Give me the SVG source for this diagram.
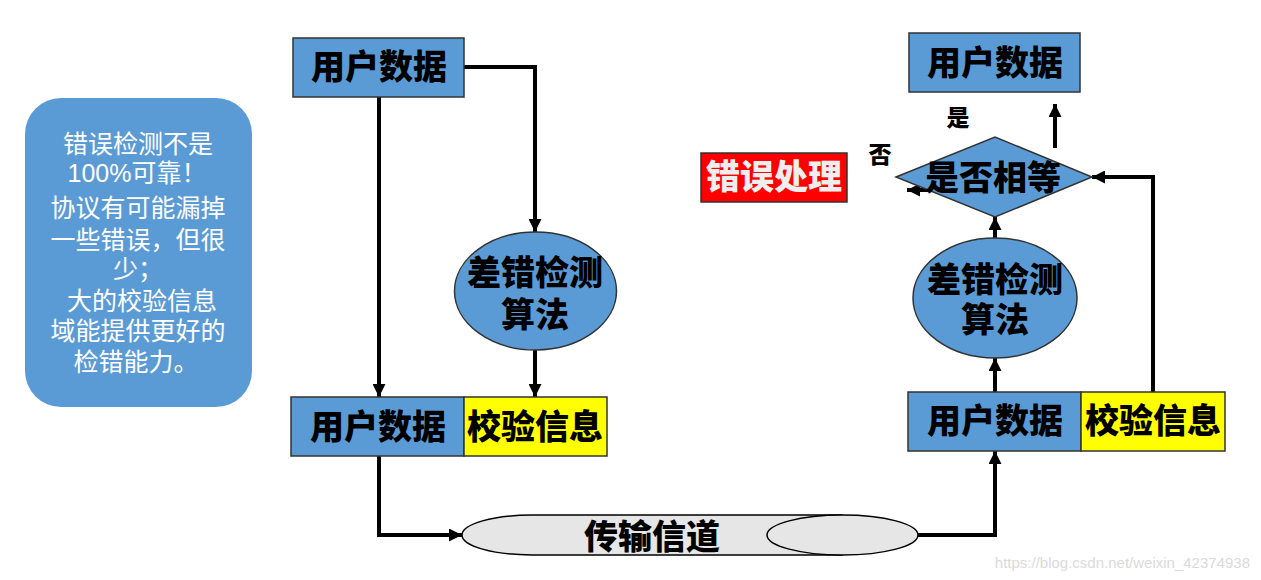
<svg xmlns="http://www.w3.org/2000/svg" width="1261" height="580" viewBox="0 0 1261 580">
<defs>
<style>
.blue{fill:#5B9BD5;stroke:#333;stroke-width:1.5}
.yel{fill:#FFFF00;stroke:#333;stroke-width:1.5}
.t{font-family:"Liberation Sans","Noto Sans CJK SC",sans-serif;font-weight:900;font-size:34px;fill:#000;text-anchor:middle;dominant-baseline:central}
.w{font-family:"Liberation Sans","Noto Sans CJK SC",sans-serif;font-size:25px;fill:#fff;text-anchor:middle;dominant-baseline:central}
.s{font-family:"Liberation Sans","Noto Sans CJK SC",sans-serif;font-weight:900;font-size:23px;fill:#000;text-anchor:middle;dominant-baseline:central}
.c{fill:none;stroke:#000;stroke-width:4}
</style>
<marker id="ah" viewBox="0 0 12 12" refX="12" refY="6" markerWidth="13" markerHeight="13" markerUnits="userSpaceOnUse" orient="auto">
<path d="M0,0 L12,6 L0,12 Z" fill="#000"/>
</marker>
</defs>
<rect width="1261" height="580" fill="#fff"/>

<g id="note">
<rect x="25" y="98" width="227" height="309" rx="36" fill="#5B9BD5"/>
<text class="w" x="138" y="144">错误检测不是</text>
<text class="w" x="137" y="173">100%可靠！</text>
<text class="w" x="138" y="208">协议有可能漏掉</text>
<text class="w" x="138" y="240">一些错误，但很</text>
<text class="w" x="138" y="269">少；</text>
<text class="w" x="142" y="301">大的校验信息</text>
<text class="w" x="138" y="331">域能提供更好的</text>
<text class="w" x="136" y="362">检错能力。</text>
</g>

<g id="connectors">
<polyline class="c" points="464,67 535,67 535,232" marker-end="url(#ah)"/>
<line class="c" x1="379" y1="97" x2="379" y2="397" marker-end="url(#ah)"/>
<line class="c" x1="535" y1="350" x2="535" y2="397" marker-end="url(#ah)"/>
<polyline class="c" points="379,456 379,535 462,535" marker-end="url(#ah)"/>
<polyline class="c" points="918,535 995,535 995,451" marker-end="url(#ah)"/>
<line class="c" x1="995" y1="392" x2="995" y2="358" marker-end="url(#ah)"/>
<line class="c" x1="995" y1="238" x2="995" y2="217" marker-end="url(#ah)"/>
<polyline class="c" points="1153,392 1153,177 1092,177" marker-end="url(#ah)"/>
<line class="c" x1="1055" y1="148" x2="1055" y2="104" marker-end="url(#ah)"/>
<line class="c" x1="935" y1="190" x2="907" y2="190" marker-end="url(#ah)"/>
</g>

<g id="src-data">
<rect class="blue" x="293" y="38" width="171" height="59"/>
<text class="t" x="379" y="67">用户数据</text>
</g>

<g id="src-algo">
<ellipse class="blue" cx="535.5" cy="291" rx="81" ry="59"/>
<text class="t" x="535" y="273">差错检测</text>
<text class="t" x="535" y="315">算法</text>
</g>

<g id="src-frame">
<rect class="blue" x="291" y="397" width="173" height="59"/>
<rect class="yel" x="464" y="397" width="143" height="59"/>
<text class="t" x="378" y="427">用户数据</text>
<text class="t" x="535" y="427">校验信息</text>
</g>

<g id="channel">
<path d="M532,515 L842,515 L842,555 L532,555 A70,20 0 0 1 532,515 Z" fill="#E6E6E6" stroke="#000" stroke-width="1.5"/>
<ellipse cx="842.5" cy="535" rx="75.5" ry="20" fill="#E6E6E6" stroke="#000" stroke-width="1.5"/>
<text class="t" x="652" y="537">传输信道</text>
</g>

<g id="dst-frame">
<rect class="blue" x="908" y="392" width="173" height="59"/>
<rect class="yel" x="1081" y="392" width="144" height="59"/>
<text class="t" x="995" y="421">用户数据</text>
<text class="t" x="1153" y="421">校验信息</text>
</g>

<g id="dst-algo">
<ellipse class="blue" cx="995" cy="298" rx="82" ry="60"/>
<text class="t" x="995" y="280">差错检测</text>
<text class="t" x="995" y="320">算法</text>
</g>

<g id="compare">
<polygon class="blue" points="896,177 995,137 1092,177 995,217" stroke="#000"/>
<text class="t" x="993" y="178">是否相等</text>
</g>

<g id="dst-data">
<rect class="blue" x="909" y="33" width="171" height="59"/>
<text class="t" x="995" y="63">用户数据</text>
</g>

<g id="error">
<rect x="701" y="153" width="146" height="49" fill="#FF0000" stroke="#333" stroke-width="1.5"/>
<text class="t" x="774" y="177" style="fill:#EEEEEE">错误处理</text>
</g>

<g id="labels">
<text class="s" x="958" y="118">是</text>
<text class="s" x="880" y="155">否</text>
</g>

<text x="1250" y="568" text-anchor="end" font-family="Liberation Sans, Arial, sans-serif" font-size="15" fill="#DADADA">https://blog.csdn.net/weixin_42374938</text>
</svg>
